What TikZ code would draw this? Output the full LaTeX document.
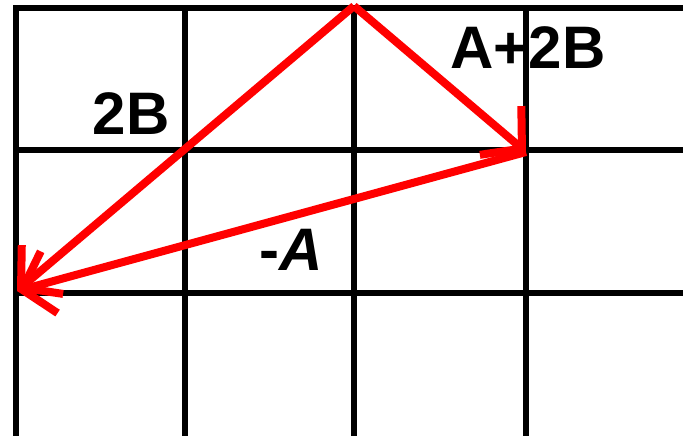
\documentclass[tikz,border=0pt]{standalone}
\usepackage{fontspec}
\setmainfont{Liberation Sans}
\usetikzlibrary{arrows.meta}
\begin{document}
\begin{tikzpicture}[x=1pt, y=-1pt,
    every node/.style={font=\fontsize{60}{60}\selectfont\bfseries},
    gridline/.style={line width=6pt, black},
    vec/.style={line width=8pt, red, -{Straight Barb[length=28pt, width=64pt, line width=8pt]}}]
  \useasboundingbox (0,0) rectangle (683,436);
  % grid
  \foreach \x in {16,185,354,526}
    \draw[gridline] (\x,8) -- (\x,436);
  \foreach \y in {8,150,293}
    \draw[gridline] (13,\y) -- (683,\y);
  % vectors
  \coordinate (top) at (354,6);
  \coordinate (right) at (526,152);
  \coordinate (left) at (17,291);
  \draw[vec] (top) -- (right);
  \draw[vec] (top) -- (left);
  \draw[vec] (right) -- (left);
  % labels
  \node (lbB) at (131,114) {2B};
  \node (lbAB) at (528,48) {A+2B};
  \node (lbA) at (291,250) {-\textit{A}};
\end{tikzpicture}
\end{document}
